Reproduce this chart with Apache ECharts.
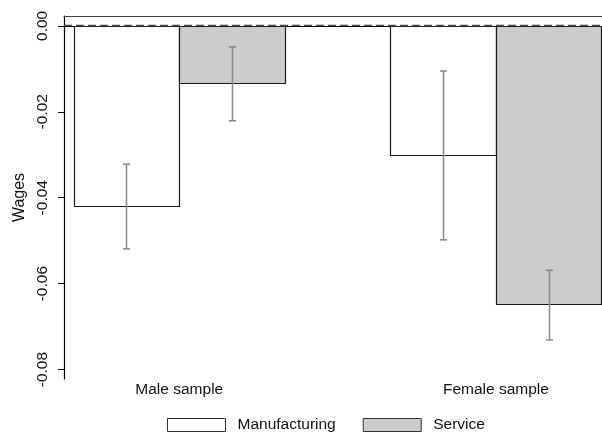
<!DOCTYPE html>
<html><head><meta charset="utf-8">
<script src="https://cdn.jsdelivr.net/npm/echarts@6/dist/echarts.min.js"></script>
<style>html,body{margin:0;padding:0;background:#fff}#c{width:602px;height:435px}</style>
</head><body><div id="c"></div>
<script>
const categories = ['Male sample', 'Female sample'];
const seriesNames = ['Manufacturing', 'Service'];
const manufacturing = [-0.0419, -0.0301];
const manufacturingLow = [-0.0519, -0.0498];
const manufacturingHigh = [-0.0322, -0.0105];
const service = [-0.0133, -0.0648];
const serviceLow = [-0.0221, -0.0731];
const serviceHigh = [-0.0049, -0.0569];
const yTicks = [0, -0.02, -0.04, -0.06, -0.08];
const catPositions = [1, 2];
const zeroLine = 0;

const BW = 1 / 3;
const FONT = '"Liberation Sans", Arial, sans-serif';

function barRender(offset) {
  return function (params, api) {
    const c = api.value(0), v = api.value(1);
    const p0 = api.coord([c + offset * BW, 0]);
    const p1 = api.coord([c + (offset + 1) * BW, v]);
    const x = Math.round(p0[0]) + 0.5, x1 = Math.round(p1[0]) + 0.5;
    const y0 = Math.round(Math.min(p0[1], p1[1])) + 0.5, y1 = Math.round(Math.max(p0[1], p1[1])) + 0.5;
    return {
      type: 'rect',
      shape: { x: x, y: y0, width: x1 - x, height: y1 - y0 },
      style: { fill: api.visual('color'), stroke: '#1a1a1a', lineWidth: 1.2 }
    };
  };
}
function errRender(offset) {
  return function (params, api) {
    const c = api.value(0);
    const xc = c + (offset + 0.5) * BW;
    const pl = api.coord([xc, api.value(1)]);
    const ph = api.coord([xc, api.value(2)]);
    const x = Math.round(pl[0]) + 0.5;
    const cap = 3.5;
    const st = { stroke: '#8c8c8c', lineWidth: 1.6 };
    return {
      type: 'group',
      children: [
        { type: 'line', shape: { x1: x, y1: pl[1], x2: x, y2: ph[1] }, style: st },
        { type: 'line', shape: { x1: x - cap, y1: pl[1], x2: x + cap, y2: pl[1] }, style: st },
        { type: 'line', shape: { x1: x - cap, y1: ph[1], x2: x + cap, y2: ph[1] }, style: st }
      ]
    };
  };
}
function zeroRender(params, api) {
  const a = api.coord([xMin, api.value(0)]);
  const b = api.coord([xMax, api.value(0)]);
  const y = Math.round(a[1]) - 0.5;
  return {
    type: 'line',
    shape: { x1: a[0], y1: y, x2: b[0], y2: y },
    style: { stroke: '#4a4a4a', lineWidth: 1.5, lineDash: [8, 4] }
  };
}

const xMin = 0.636, xMax = 2.335;
const chart = echarts.init(document.getElementById('c'), null, { renderer: 'canvas' });
chart.setOption({
  animation: false,
  backgroundColor: '#fff',
  textStyle: { fontFamily: FONT },
  grid: { left: 64, right: 0, top: 16, bottom: 56 },
  legend: {
    left: 167, top: 417, padding: 0,
    itemWidth: 58, itemHeight: 13, itemGap: 27,
    icon: 'rect',
    textStyle: { fontSize: 15.5, color: '#111', fontFamily: FONT, padding: [0, 0, 0, 7] },
    data: [
      { name: seriesNames[0], itemStyle: { color: '#ffffff', borderColor: '#333', borderWidth: 1 } },
      { name: seriesNames[1], itemStyle: { color: '#cccccc', borderColor: '#333', borderWidth: 1 } }
    ]
  },
  xAxis: [{
    type: 'value', min: xMin, max: xMax,
    splitLine: { show: false },
    axisTick: { show: false },
    axisLine: { show: true, lineStyle: { color: '#000', width: 1.2 } },
    axisLabel: {
      customValues: catPositions,
      formatter: function (v) { const i = catPositions.indexOf(v); return i >= 0 ? categories[i] : ''; },
      fontSize: 15.5, color: '#111', margin: 3, fontFamily: FONT
    }
  }, {
    type: 'value', min: xMin, max: xMax, position: 'top',
    splitLine: { show: false }, axisTick: { show: false }, axisLabel: { show: false },
    axisLine: { show: true, lineStyle: { color: '#444', width: 1 } }
  }],
  yAxis: {
    type: 'value', min: -0.0822, max: 0.0023,
    name: 'Wages', nameLocation: 'middle', nameGap: 36, nameRotate: 90,
    nameTextStyle: { fontSize: 16, color: '#111', fontFamily: FONT },
    splitLine: { show: false },
    axisLine: { show: true, lineStyle: { color: '#000', width: 1.2 } },
    axisTick: { show: true, length: 6, customValues: yTicks, lineStyle: { color: '#000' } },
    axisLabel: {
      customValues: yTicks, rotate: 90, margin: 13, fontSize: 15.5, color: '#111', fontFamily: FONT,
      formatter: function (v) { return v.toFixed(2); }
    }
  },
  series: [
    {
      name: seriesNames[0], type: 'custom', renderItem: barRender(-1),
      itemStyle: { color: '#ffffff' },
      data: catPositions.map((c, i) => [c, manufacturing[i]]), z: 2
    },
    {
      name: seriesNames[1], type: 'custom', renderItem: barRender(0),
      itemStyle: { color: '#cccccc' },
      data: catPositions.map((c, i) => [c, service[i]]), z: 2
    },
    {
      name: 'mfgErr', type: 'custom', renderItem: errRender(-1),
      data: catPositions.map((c, i) => [c, manufacturingLow[i], manufacturingHigh[i]]), z: 3
    },
    {
      name: 'srvErr', type: 'custom', renderItem: errRender(0),
      data: catPositions.map((c, i) => [c, serviceLow[i], serviceHigh[i]]), z: 4
    },
    {
      name: 'zero', type: 'custom', renderItem: zeroRender, silent: true,
      encode: { y: 0 }, clip: false,
      data: [[zeroLine]], z: 5
    }
  ]
});
</script>
</body></html>
